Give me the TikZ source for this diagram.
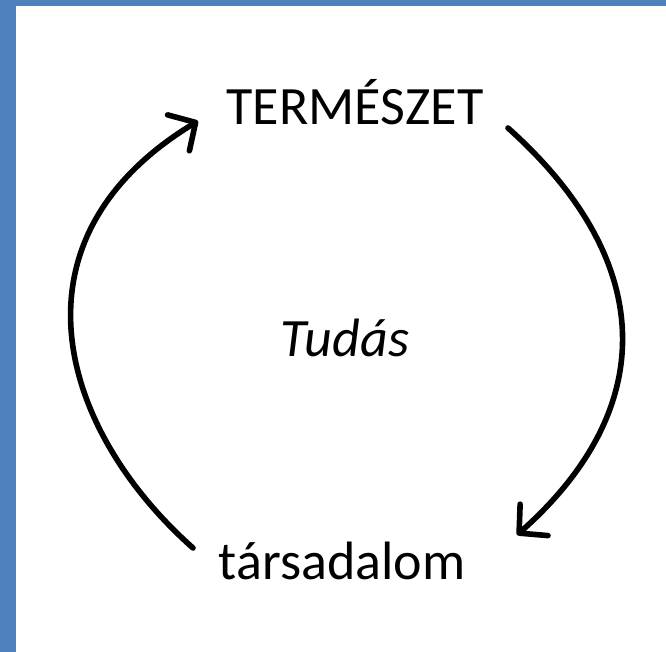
\documentclass[tikz,border=0pt]{standalone}
\usepackage{fontspec}
\setmainfont{Carlito}
\usepackage{xcolor}
\usetikzlibrary{arrows.meta,positioning}
\definecolor{frameblue}{RGB}{79,129,189}

\begin{document}
\begin{tikzpicture}[
		x=0.5pt,y=-0.5pt,
		every node/.style={
			inner sep=0pt,
			anchor=base,
			font=\fontsize{27}{32}\selectfont
		},
		cyclearrow/.style={
			line width=2.8pt,
			line cap=round,
			-{Straight Barb[length=10pt,width=21pt,line width=2.8pt,round]}
		}
		]
		
		% frame
		\fill[frameblue] (0,0) rectangle (666,652);
		\fill[white] (16,6) rectangle (666,652);
		\useasboundingbox (0,0) rectangle (666,652);
		
		\node (nat) at (355,125) {TERMÉSZET};
		\node (soc) at (342,580) {társadalom};
		\node (know) at (345,357) {\itshape Tudás};
		
		\coordinate (natin) at (198,121);
		\coordinate (natout) at (508,128);
		\coordinate (socin) at (517,535);
		\coordinate (socout) at (193,548);
		
		\draw[cyclearrow] (natout) .. controls (659,263) and (658,410) .. (socin);
		\draw[cyclearrow] (socout) .. controls (60,430) and (2,240) .. (natin);
		
	\end{tikzpicture}
\end{document}
